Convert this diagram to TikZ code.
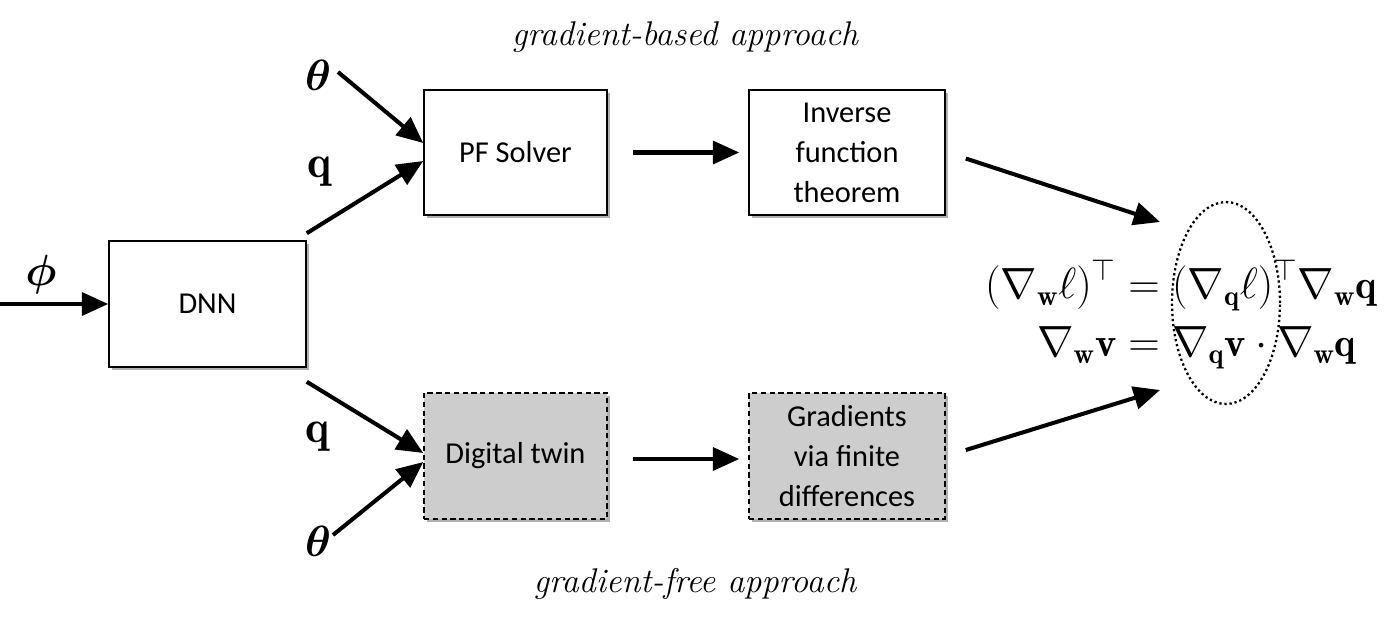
\documentclass[tikz,border=0pt]{standalone}
\usepackage{amsmath}
\usepackage{amssymb}
\usepackage{bm}
\usepackage{fontspec}
\newfontfamily\carlito{Carlito}
\usetikzlibrary{arrows.meta,shapes.geometric,shadows,calc}
\definecolor{boxgray}{RGB}{205,205,205}
\tikzset{
  blk/.style={draw, line width=0.9pt, fill=white, inner sep=0pt, align=center,
    font=\carlito\fontsize{17.3}{22.8}\selectfont,
    drop shadow={shadow xshift=1.6pt, shadow yshift=-1.6pt, opacity=0.3, fill=black}},
  gblk/.style={blk, fill=boxgray, dashed, dash pattern=on 3pt off 2pt},
  arr/.style={line width=2.3pt, -{Triangle[length=15pt,width=13pt]}},
  lbl/.style={inner sep=0pt, font=\fontsize{26}{30}\selectfont},
  captext/.style={inner sep=0pt, font=\itshape\fontsize{19.5}{23}\selectfont}
}
\begin{document}
\begin{tikzpicture}[x=0.02cm,y=-0.02cm]
\useasboundingbox (0,0) rectangle (1393,633);
% boxes
\node[blk, minimum width=3.94cm, minimum height=2.52cm] (dnn) at (207.5,304) {DNN};
\node[blk, minimum width=3.66cm, minimum height=2.5cm] (pf) at (515.5,152.5) {PF Solver};
\node[blk, minimum width=3.92cm, minimum height=2.5cm] (ift) at (847,152.5) {Inverse\\function\\theorem};
\node[gblk, minimum width=3.66cm, minimum height=2.52cm] (dt) at (515.5,456) {Digital twin};
\node[gblk, minimum width=3.92cm, minimum height=2.52cm] (gr) at (847,456) {Gradients\\via finite\\differences};
% captions
\node[captext] (capt) at (685,37) {gradient-based approach};
\node[captext] (capb) at (695,584) {gradient-free approach};
% labels
\node[lbl] (phil) at (41,275) {$\boldsymbol{\phi}$};
\node[lbl] (th1) at (318,75) {$\boldsymbol{\theta}$};
\node[lbl] (q1) at (320,172) {$\mathbf{q}$};
\node[lbl] (q2) at (318,437) {$\mathbf{q}$};
\node[lbl] (th2) at (318,541) {$\boldsymbol{\theta}$};
% free ends
\coordinate (phiin) at (0,304);
\coordinate (th1s) at (338,72);
\coordinate (th2s) at (333,535);
\coordinate (t1) at (1160,222);
\coordinate (t2) at (1160,390);
% formula and ellipse
\node[draw, ellipse, line width=1.3pt, dash pattern=on 1.3pt off 1.6pt, minimum width=2.16cm, minimum height=4.04cm, inner sep=0pt] (ell) at (1226,303) {};
\node[inner sep=0pt, font=\fontsize{23}{30}\selectfont] (eq) at (1181,316)
 {$\begin{aligned}(\nabla_{\mathbf w}\ell)^\top &= (\nabla_{\mathbf q}\ell)^\top\nabla_{\mathbf w}\mathbf q\\
 \nabla_{\mathbf w}\mathbf v &= \nabla_{\mathbf q}\mathbf v\cdot\nabla_{\mathbf w}\mathbf q\end{aligned}$};
% connectors
\draw[arr] (phiin) -- (dnn.west);
\draw[arr] ($(dnn.north east)+(0,-7)$) -- ($(pf.west)+(0,8.5)$);
\draw[arr] (th1s) -- ($(pf.west)+(0,-9.5)$);
\draw[arr] ($(dnn.south east)+(0,14)$) -- ($(dt.west)+(0,-3)$);
\draw[arr] (th2s) -- ($(dt.west)+(0,6)$);
\draw[arr] ($(pf.east)+(25,0)$) -- ($(ift.west)+(-9,0)$);
\draw[arr] ($(dt.east)+(25,3)$) -- ($(gr.west)+(-9,3)$);
\draw[arr] ($(ift.east)+(20,6)$) -- (t1);
\draw[arr] ($(gr.east)+(20,-6)$) -- (t2);
\end{tikzpicture}
\end{document}
